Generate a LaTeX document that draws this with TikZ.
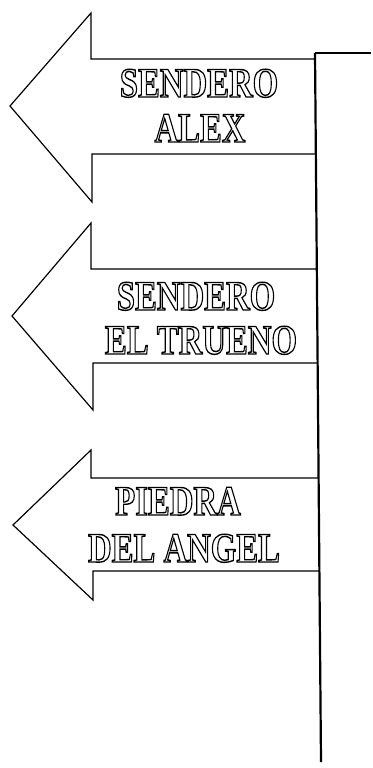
\documentclass[tikz,border=0pt]{standalone}
\usepackage{fontspec}
\setmainfont{Liberation Serif}
\newcommand{\outlinetext}[1]{\special{pdf:literal 1 Tr 1.4 w}#1\special{pdf:literal 0 Tr}}
\begin{document}
\begin{tikzpicture}[x=1pt,y=-1pt,
  arrowline/.style={draw=black,line width=1.2pt,line join=miter},
  poleline/.style={draw=black,line width=2.2pt},
  label/.style={anchor=base,inner sep=0pt,xscale=0.78,transform shape,
    font=\fontsize{42}{47}\selectfont\bfseries}]
\useasboundingbox[fill=white] (0,0) rectangle (372,768);
% pole
\coordinate (ptop) at (315,53);
\coordinate (pbot) at (321,762);
\coordinate (tr) at (371,53);
\draw[poleline] (ptop) -- (pbot);
\draw[arrowline] (ptop) -- (tr);
% arrow 1
\coordinate (a1s) at (315.2,59);
\coordinate (a1a) at (91,59);
\coordinate (a1b) at (91,13);
\coordinate (a1t) at (10,106);
\coordinate (a1c) at (92,202);
\coordinate (a1d) at (92,154);
\coordinate (a1e) at (315.9,154);
\draw[arrowline] (a1s) -- (a1a) -- (a1b) -- (a1t) -- (a1c) -- (a1d) -- (a1e);
% arrow 2
\coordinate (a2s) at (316.8,269);
\coordinate (a2a) at (91,269);
\coordinate (a2b) at (91,223);
\coordinate (a2t) at (12,316);
\coordinate (a2c) at (93,410);
\coordinate (a2d) at (93,363);
\coordinate (a2e) at (317.6,363);
\draw[arrowline] (a2s) -- (a2a) -- (a2b) -- (a2t) -- (a2c) -- (a2d) -- (a2e);
% arrow 3
\coordinate (a3s) at (318.4,478);
\coordinate (a3a) at (91,478);
\coordinate (a3b) at (91,450);
\coordinate (a3t) at (13,525);
\coordinate (a3c) at (93,600);
\coordinate (a3d) at (93,571);
\coordinate (a3e) at (319.2,571);
\draw[arrowline] (a3s) -- (a3a) -- (a3b) -- (a3t) -- (a3c) -- (a3d) -- (a3e);
% labels
\node[label] (l1a) at (199,97) {\outlinetext{SENDERO}};
\node[label] (l1b) at (200,142) {\outlinetext{ALEX}};
\node[label] (l2a) at (196,310) {\outlinetext{SENDERO}};
\node[label] (l2b) at (201,354) {\outlinetext{EL TRUENO}};
\node[label] (l3a) at (178,515) {\outlinetext{PIEDRA}};
\node[label] (l3b) at (184,562) {\outlinetext{DEL ANGEL}};
\end{tikzpicture}
\end{document}
